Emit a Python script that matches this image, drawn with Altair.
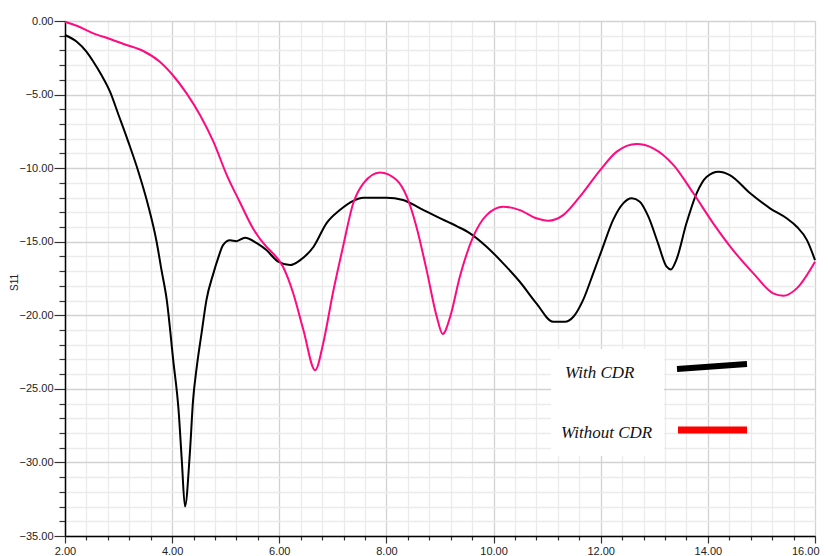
import altair as alt
import pandas as pd

# ---- data ----
freq_with = [2.0, 2.22, 2.40, 2.53, 2.68, 2.84, 3.0, 3.18, 3.37, 3.55, 3.71, 3.80, 3.90, 4.02, 4.12, 4.18, 4.24,
             4.33, 4.39, 4.46, 4.55, 4.64, 4.77, 4.86, 4.95, 5.08, 5.2, 5.36, 5.58, 5.76, 5.98, 6.2, 6.39, 6.64,
             6.88, 7.13, 7.38, 7.57, 8.0, 8.31, 8.63, 8.94, 9.31, 9.56, 9.87, 10.18, 10.49, 10.8, 11.11, 11.33,
             11.49, 11.67, 11.86, 12.02, 12.23, 12.42, 12.58, 12.73, 12.89, 13.07, 13.23, 13.31, 13.41, 13.6,
             13.79, 13.98, 14.2, 14.41, 14.79, 15.16, 15.47, 15.66, 15.85, 16.0]
s11_with = [-0.95, -1.41, -2.08, -2.77, -3.67, -4.8, -6.39, -8.2, -10.24, -12.5, -15.0, -16.9, -18.97, -23.05,
            -26.45, -29.84, -33.0, -29.4, -25.8, -23.5, -21.2, -18.97, -17.15, -16.1, -15.23, -14.9, -14.96,
            -14.73, -15.1, -15.57, -16.36, -16.59, -16.25, -15.34, -13.75, -12.85, -12.22, -12.01, -12.01,
            -12.17, -12.73, -13.3, -13.94, -14.43, -15.34, -16.47, -17.72, -19.19, -20.44, -20.44, -20.1,
            -18.97, -17.15, -15.57, -13.53, -12.39, -12.05, -12.28, -13.3, -15.11, -16.7, -16.88, -16.25,
            -13.75, -11.71, -10.58, -10.24, -10.47, -11.71, -12.73, -13.41, -13.98, -14.89, -16.25]

freq_without = [2.0, 2.22, 2.53, 2.84, 3.15, 3.46, 3.77, 4.01, 4.27, 4.52, 4.77, 5.02, 5.26, 5.51, 5.76, 5.83,
                6.07, 6.26, 6.45, 6.67, 6.82, 7.0, 7.19, 7.38, 7.57, 7.88, 8.19, 8.38, 8.56, 8.75, 8.94, 9.05,
                9.19, 9.37, 9.62, 9.87, 10.18, 10.49, 10.8, 11.02, 11.3, 11.61, 11.99, 12.3, 12.67, 12.98,
                13.36, 13.73, 14.1, 14.47, 14.85, 15.22, 15.41, 15.66, 16.0]
s11_without = [-0.05, -0.32, -0.84, -1.22, -1.63, -2.04, -2.77, -3.67, -4.92, -6.39, -8.2, -10.47, -12.28,
               -14.1, -15.34, -15.6, -16.7, -18.5, -21.0, -23.73, -21.9, -18.5, -15.34, -12.39, -11.03, -10.29,
               -10.81, -11.94, -13.98, -16.93, -20.1, -21.28, -20.1, -17.38, -14.66, -13.19, -12.62, -12.85,
               -13.41, -13.57, -13.19, -11.94, -10.13, -8.88, -8.36, -8.65, -9.79, -11.71, -13.75, -15.57,
               -17.15, -18.51, -18.67, -18.17, -16.36]

x_ticks = [round(2 + 0.4 * i, 1) for i in range(36)]
y_ticks = list(range(-35, 1))

legend_labels = ["With CDR", "Without CDR"]

df_with = pd.DataFrame({"f": freq_with, "s": s11_with})
df_without = pd.DataFrame({"f": freq_without, "s": s11_without})

W, H = 750, 515

xscale = alt.Scale(domain=[2, 16], nice=False, zero=False)
yscale = alt.Scale(domain=[-35, 0], nice=False, zero=False)

is_major_x = "abs(datum.value - round(datum.value / 2) * 2) < 0.01"
is_major_y = "abs(datum.value - round(datum.value / 5) * 5) < 0.01"
is_last_x = "datum.value > 15.9"

xaxis = alt.Axis(
    values=x_ticks, tickCount=200, orient="bottom", title=None,
    labelExpr=f"({is_major_x}) ? format(datum.value, '.2f') : ''",
    tickSize=alt.condition(is_major_x, alt.value(7), alt.value(4)),
    gridColor=alt.condition(is_major_x, alt.value("#d2d2d2"), alt.value("#ebebeb")),
    labelAlign=alt.condition(is_last_x, alt.value("right"), alt.value("center")),
    labelOffset=alt.condition(is_last_x, alt.value(4), alt.value(0)),
    grid=True, gridWidth=1.3, domainColor="#000000", domainWidth=1.5,
    tickColor="#333333", tickWidth=1.2, labelFont="Liberation Sans", labelFontSize=11,
    labelColor="#222222", labelPadding=2, labelFlush=False, labelOverlap=False,
)
yaxis = alt.Axis(
    values=y_ticks, tickCount=200, orient="left", title="S11", titleFont="Liberation Sans", titleFontSize=10,
    titleFontWeight="normal", titleColor="#222222", titleX=-51, titleY=261,
    titleBaseline="middle", titleAlign="center",
    labelExpr=f"({is_major_y}) ? format(datum.value, '.2f') : ''",
    tickSize=alt.condition(is_major_y, alt.value(11), alt.value(6)),
    gridColor=alt.condition(is_major_y, alt.value("#d2d2d2"), alt.value("#ebebeb")),
    grid=True, gridWidth=1.3, domainColor="#000000", domainWidth=1.5,
    tickColor="#333333", tickWidth=1.2, labelFont="Liberation Sans", labelFontSize=11,
    labelColor="#222222", labelPadding=1, labelFlush=False, labelOverlap=False,
)

line_with = alt.Chart(df_with).mark_line(color="#000000", strokeWidth=2, interpolate="monotone").encode(
    x=alt.X("f:Q", scale=xscale, axis=xaxis),
    y=alt.Y("s:Q", scale=yscale, axis=yaxis),
)
line_without = alt.Chart(df_without).mark_line(color="#ff0a80", strokeWidth=2, interpolate="monotone").encode(
    x=alt.X("f:Q", scale=xscale),
    y=alt.Y("s:Q", scale=yscale),
)

one = alt.Data(values=[{"a": 1}])
legend_box = alt.Chart(one).mark_rect(color="white").encode(
    x=alt.value(486), x2=alt.value(599), y=alt.value(328), y2=alt.value(435)
)
txt1 = alt.Chart(one).mark_text(
    text=legend_labels[0], font="Liberation Serif", fontStyle="italic", fontSize=17,
    align="left", baseline="middle", color="#111111"
).encode(x=alt.value(500), y=alt.value(352))
txt2 = alt.Chart(one).mark_text(
    text=legend_labels[1], font="Liberation Serif", fontStyle="italic", fontSize=17,
    align="left", baseline="middle", color="#111111"
).encode(x=alt.value(496), y=alt.value(412))
leg_line1 = alt.Chart(one).mark_rule(color="#000000", strokeWidth=6).encode(
    x=alt.value(612), x2=alt.value(682), y=alt.value(348), y2=alt.value(343)
)
leg_line2 = alt.Chart(one).mark_rule(color="#ff0000", strokeWidth=7).encode(
    x=alt.value(613), x2=alt.value(682), y=alt.value(409), y2=alt.value(409)
)

chart = alt.layer(line_with, line_without, legend_box, txt1, txt2, leg_line1, leg_line2).properties(
    width=W, height=H,
    autosize=alt.AutoSizeParams(type="none"),
    padding={"left": 57, "top": 13, "right": 5, "bottom": 20},
).configure_view(stroke="#333333", strokeWidth=1.5).configure(background="white")

chart.save("out.html", embed_options={"renderer": "svg", "actions": False})
